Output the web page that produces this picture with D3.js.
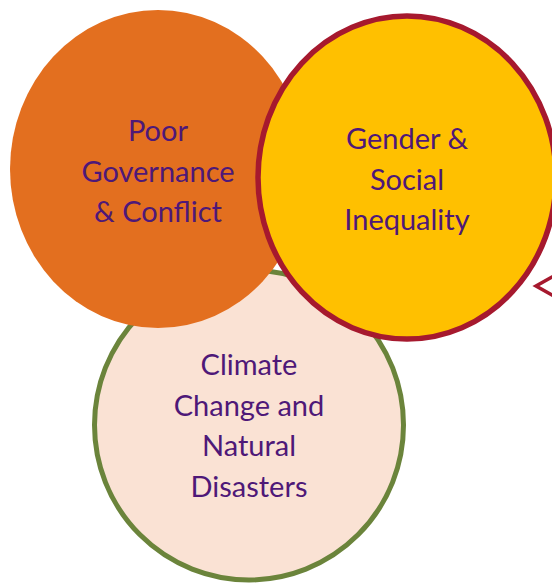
<!DOCTYPE html>
<html>
<head>
<meta charset="utf-8">
<script src="https://cdn.jsdelivr.net/npm/d3@7"></script>
<style>
  html, body { margin: 0; padding: 0; background: #fff; }
  svg { display: block; }
</style>
</head>
<body>
<svg id="chart"></svg>
<script>
var width = 552;
var height = 583;

// the three themes, drawn back to front
var themes = ["Climate", "Governance", "Gender"];
var labels = [
  ["Climate", "Change and", "Natural", "Disasters"],
  ["Poor", "Governance", "& Conflict"],
  ["Gender &", "Social", "Inequality"]
];

// layout (pixels)
var layout = {
  Climate:    {cx: 249, cy: 425, rx: 154.5, ry: 155, fill: "#FAE2D4", stroke: "#6B843B", sw: 5, base: 375},
  Governance: {cx: 158, cy: 169, rx: 148, ry: 159, fill: "#E36F1F", stroke: "none", sw: 0, base: 141},
  Gender:     {cx: 407, cy: 177.5, rx: 149, ry: 161.5, fill: "#FFC000", stroke: "#A6192E", sw: 5.5, base: 149}
};
var lineStep = 40.5;
var textColor = "#4E1878";

var svg = d3.select("#chart")
  .attr("width", width)
  .attr("height", height);

var g = svg.selectAll(".theme")
  .data(themes)
  .enter().append("g")
  .attr("class", "theme");

g.append("ellipse")
  .attr("cx", function(d) { return layout[d].cx; })
  .attr("cy", function(d) { return layout[d].cy; })
  .attr("rx", function(d) { return layout[d].rx; })
  .attr("ry", function(d) { return layout[d].ry; })
  .style("fill", function(d) { return layout[d].fill; })
  .style("stroke", function(d) { return layout[d].stroke; })
  .style("stroke-width", function(d) { return layout[d].sw; });

g.each(function(d, i) {
  var l = layout[d];
  d3.select(this).selectAll("text")
    .data(labels[i])
    .enter().append("text")
    .attr("x", l.cx)
    .attr("y", function(t, j) { return l.base + j * lineStep; })
    .style("font-family", "Lato, sans-serif")
    .style("font-size", "29px")
    .style("text-anchor", "middle")
    .style("fill", textColor)
    .text(function(t) { return t; });
});

// partial arrow at the right edge
svg.append("path")
  .attr("d", d3.line()([[572, 266], [536, 286], [572, 306]]))
  .style("fill", "#fff")
  .style("stroke", "#A6192E")
  .style("stroke-width", 3.5);
</script>
</body>
</html>
